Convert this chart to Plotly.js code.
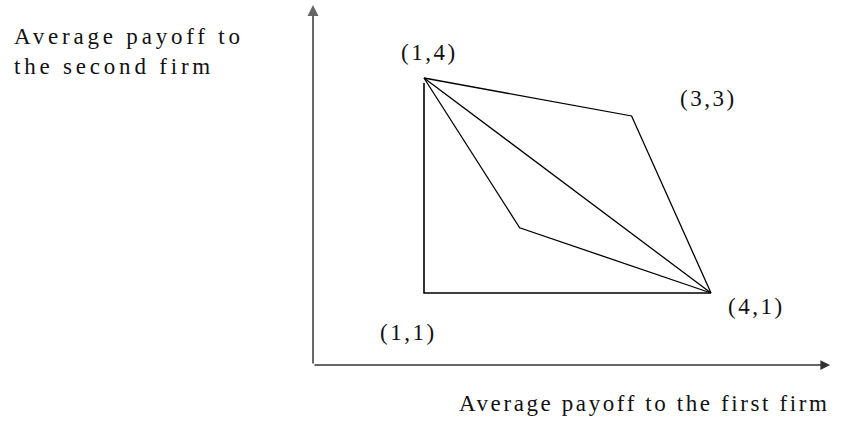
<!DOCTYPE html>
<html>
<head>
<meta charset="utf-8">
<script src="https://cdn.plot.ly/plotly-3.0.1.min.js"></script>
<style>html,body{margin:0;padding:0;background:#fff;}</style>
</head>
<body>
<div id="chart" style="width:858px;height:423px;"></div>
<script>
// Vertices of the payoff region (drawn positions, as in the figure)
const vertexNames = ["(1,4)", "(3,3)", "(4,1)", "(1,1)"];
const vertexX = [1, 3.17, 4, 1];
const vertexY = [4, 3.47, 1, 1];
// Interior kink point of the inner curve
const innerX = [2.0];
const innerY = [1.91];
// Axis titles
const xTitle = "Average payoff to the first firm";
const yTitle = "Average payoff to<br>the second firm";

const W = 858, H = 423;
const px = p => p / W;
const py = p => 1 - p / H;

const lineStyle = {color: "#000", width: 1.3};
const traces = [
  // outer boundary: (1,4) -> (3,3) -> (4,1)
  {x: [vertexX[0], vertexX[1], vertexX[2]], y: [vertexY[0], vertexY[1], vertexY[2]], mode: "lines", line: lineStyle},
  // straight diagonal (1,4) -> (4,1)
  {x: [vertexX[0], vertexX[2]], y: [vertexY[0], vertexY[2]], mode: "lines", line: lineStyle},
  // inner bent curve (1,4) -> interior -> (4,1)
  {x: [vertexX[0], innerX[0], vertexX[2]], y: [vertexY[0], innerY[0], vertexY[2]], mode: "lines", line: lineStyle},
  // (1,4) -> (1,1) -> (4,1)
  {x: [vertexX[0], vertexX[3], vertexX[2]], y: [vertexY[0] - 0.07, vertexY[3], vertexY[2]], mode: "lines", line: {color: "#000", width: 1.6}}
];

const labelPos = [[429, 53], [708, 98], [756, 306], [408, 332]];
const ls = s => '<span style="letter-spacing:2.5px">' + s + '</span>';
const font = {family: "'Liberation Serif', 'Times New Roman', Times, serif", size: 23, color: "#111"};

const annotations = vertexNames.map((n, i) => ({
  xref: "paper", yref: "paper", x: px(labelPos[i][0]), y: py(labelPos[i][1]),
  xanchor: "center", yanchor: "middle", showarrow: false, text: ls(n), font: font
}));

annotations.push({
  xref: "paper", yref: "paper", x: px(12), y: py(52), xanchor: "left", yanchor: "middle",
  align: "left", showarrow: false, font: font,
  text: yTitle.split("<br>").map(s => '<span style="letter-spacing:3.8px">' + s + '</span>').join("<br>")
});
annotations.push({
  xref: "paper", yref: "paper", x: px(831), y: py(403), xanchor: "right", yanchor: "middle",
  showarrow: false, font: font, text: '<span style="letter-spacing:2.6px">' + xTitle + '</span>'
});

// axis arrows (origin in data units)
const ox = -0.16, oy = -0.005;
annotations.push({x: ox, y: 5.02, ax: ox, ay: oy, xref: "x", yref: "y", axref: "x", ayref: "y",
  showarrow: true, arrowhead: 2, arrowsize: 1.1, arrowwidth: 2, arrowcolor: "#666", text: "", standoff: 0});
annotations.push({x: 5.245, y: oy, ax: ox, ay: oy, xref: "x", yref: "y", axref: "x", ayref: "y",
  showarrow: true, arrowhead: 2, arrowsize: 1.3, arrowwidth: 1.5, arrowcolor: "#333", text: "", standoff: 0});

const layout = {
  width: W, height: H,
  margin: {l: 0, r: 0, t: 0, b: 0},
  paper_bgcolor: "#fff", plot_bgcolor: "#fff",
  showlegend: false,
  xaxis: {range: [1 - 424 / 95.67, 1 + 434 / 95.67], visible: false, fixedrange: true},
  yaxis: {range: [1 - 130 / 71.67, 4 + 78 / 71.67], visible: false, fixedrange: true},
  annotations: annotations
};

Plotly.newPlot("chart", traces, layout, {displayModeBar: false, staticPlot: true});
</script>
</body>
</html>
